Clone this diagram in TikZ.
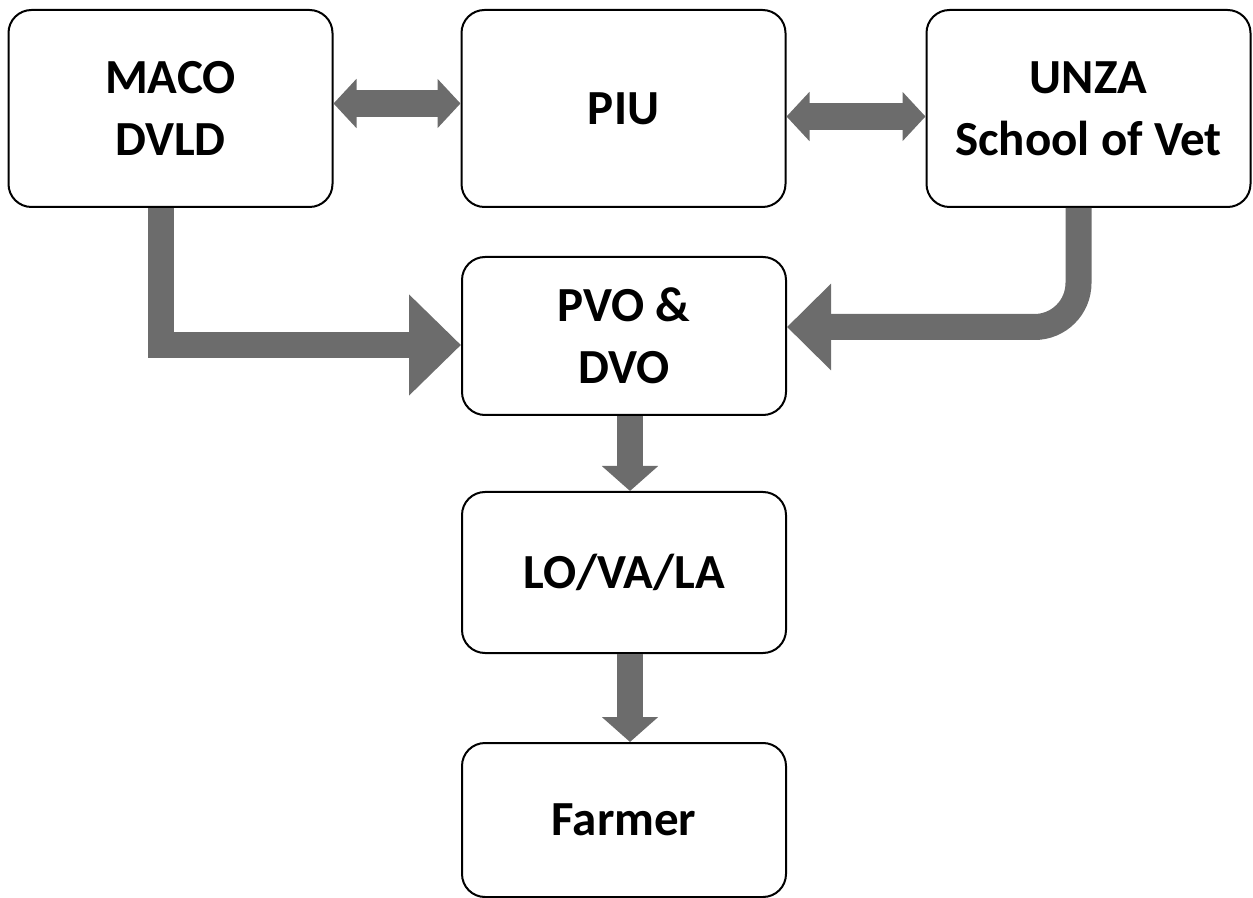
\documentclass[tikz,border=0pt]{standalone}
\usepackage{fontspec}
\setmainfont{Carlito}
\usetikzlibrary{arrows.meta}
\definecolor{arrowgray}{RGB}{108,108,108}

\begin{document}
\begin{tikzpicture}[x=0.5pt,y=-0.5pt,
    box/.style={draw,line width=1pt,rounded corners=11.5pt,fill=white,align=center,
      font=\fontsize{24.5}{31}\selectfont\bfseries,inner sep=0pt,minimum width=162pt},
    twoway/.style={arrowgray,line width=13.5pt,{Triangle[width=24pt,length=11.5pt]}-{Triangle[width=24pt,length=11.5pt]}},
    downarrow/.style={arrowgray,line width=13pt,-{Triangle[width=27.5pt,length=12.5pt]}},
    bigarrow/.style={arrowgray,line width=13pt,-{Triangle[width=49pt,length=26pt]}}]

    \useasboundingbox (0,0) rectangle (1253,898);

    \node[box,minimum height=98.5pt]  (maco)   at (170.5, 108.5)  {MACO\\DVLD};
    \node[box,minimum height=98.5pt]  (piu)    at (623.5, 108.5)  {PIU};
    \node[box,minimum height=98.5pt]  (unza)   at (1088.5, 108.5) {UNZA\\School of Vet};
    \node[box,minimum height=79pt]    (pvo)    at (624, 336)      {PVO \&\\DVO};
    \node[box,minimum height=80.5pt]  (lo)     at (624, 572.5)    {LO/VA/LA};
    \node[box,minimum height=77pt]    (farmer) at (624, 820)      {Farmer};

    \draw[twoway] ([yshift=2.5pt]maco.east) -- ([yshift=2.5pt]piu.west);
    \draw[twoway] ([yshift=-4pt]piu.east) -- ([yshift=-4pt]unza.west);
    \draw[bigarrow] ([xshift=-5pt]maco.south) |- ([yshift=-4.5pt]pvo.west);
    \draw[bigarrow,-{Triangle[width=42pt,length=22pt]},rounded corners=22pt]
      ([xshift=-5pt]unza.south) |- ([yshift=4.5pt]pvo.east);
    \draw[downarrow] ([xshift=3pt]pvo.south) -- ([xshift=3pt]lo.north);
    \draw[downarrow] ([xshift=3pt]lo.south) -- ([xshift=3pt]farmer.north);
\end{tikzpicture}
\end{document}
